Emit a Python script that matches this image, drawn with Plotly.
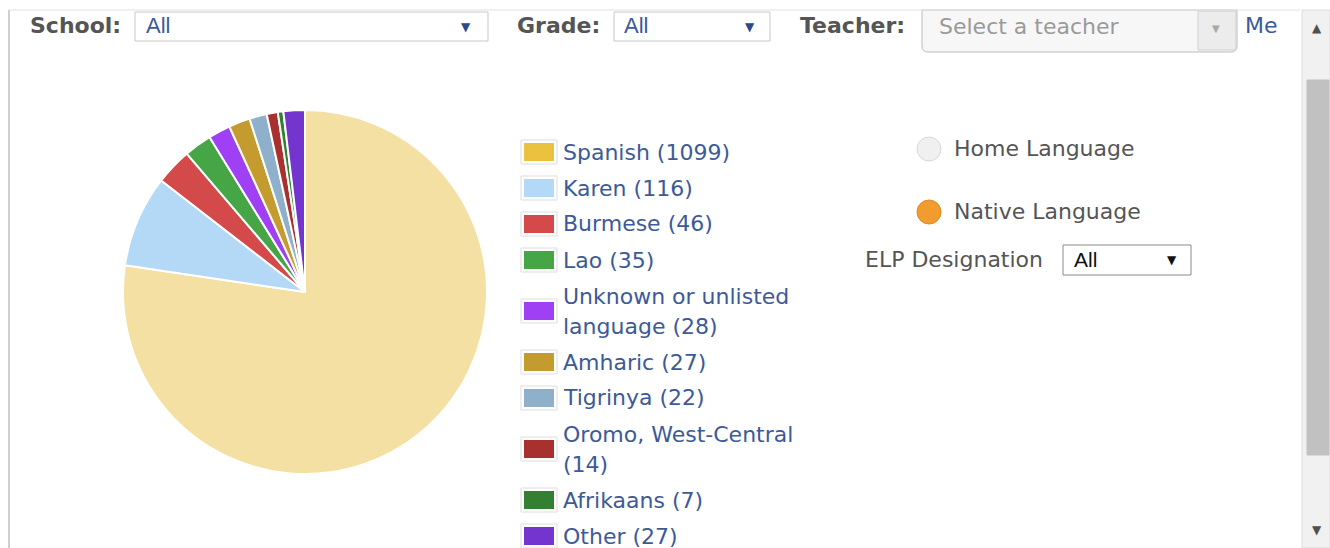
import textwrap
import plotly.graph_objects as go

# ---------------- data ----------------
languages = ["Spanish", "Karen", "Burmese", "Lao", "Unknown or unlisted language",
             "Amharic", "Tigrinya", "Oromo, West-Central", "Afrikaans", "Other"]
counts = [1099, 116, 46, 35, 28, 27, 22, 14, 7, 27]
slice_colors = ["#F5E0A3", "#B3D9F7", "#D44A4A", "#46A646", "#A040F5",
                "#C49B2E", "#8FB0CB", "#A8302F", "#338033", "#7435CF"]
swatch_colors = ["#EBC23F", "#B3D9F7", "#D44A4A", "#46A646", "#A040F5",
                 "#C49B2E", "#8FB0CB", "#A8302F", "#338033", "#7435CF"]

filter_labels = ["School:", "Grade:", "Teacher:"]
filter_values = ["All", "All", "Select a teacher"]
radio_options = ["Home Language", "Native Language"]
elp_label = "ELP Designation"
elp_value = "All"

W, H = 1330, 548


def px(x):
    return x / W


def py(y):
    return 1 - y / H


fig = go.Figure()

# ---------------- pie ----------------
cx, cy, r = 305, 292, 182
fig.add_trace(go.Pie(
    labels=languages, values=counts, sort=False, direction="clockwise", rotation=0,
    marker=dict(colors=slice_colors, line=dict(color="white", width=2)),
    textinfo="none", hoverinfo="label+value", showlegend=False,
    domain=dict(x=[px(cx - r), px(cx + r)], y=[py(cy + r), py(cy - r)]),
))

shapes = []
ann = []
FONT = "DejaVu Sans"
LEG_COLOR = "#3D5A98"
GREY_TXT = "#555555"


def text(x, y, s, size=20, color=GREY_TXT, family=FONT, anchor="left"):
    ann.append(dict(x=px(x), y=py(y), xref="paper", yref="paper", text=s, showarrow=False,
                    xanchor=anchor, yanchor="middle",
                    font=dict(size=size, color=color, family=family)))


def rect(x0, y0, x1, y1, fill="white", line="#cccccc", lw=1):
    shapes.append(dict(type="rect", xref="paper", yref="paper",
                       x0=px(x0), x1=px(x1), y0=py(y1), y1=py(y0),
                       fillcolor=fill, line=dict(color=line, width=lw), layer="below"))


# ---------------- custom legend ----------------
cursor = 152
for lab, val, col in zip(languages, counts, swatch_colors):
    lines = textwrap.wrap(f"{lab} ({val})", width=20)
    n = len(lines)
    center = cursor + 15 * (n - 1)
    rect(521, center - 12, 557, center + 12, fill="white", line="#dddddd")
    rect(524, center - 9, 554, center + 9, fill=col, line=col, lw=0)
    for k, ln in enumerate(lines):
        text(561, cursor + 30 * k, ln, size=22, color=LEG_COLOR)
    cursor = cursor + 30 * (n - 1) + 36

# ---------------- frame ----------------
shapes.append(dict(type="line", xref="paper", yref="paper", x0=px(8), x1=px(1300),
                   y0=py(10), y1=py(10), line=dict(color="#e2e2e2", width=1)))
shapes.append(dict(type="line", xref="paper", yref="paper", x0=px(9), x1=px(9),
                   y0=py(10), y1=py(548), line=dict(color="#cfcfcf", width=2)))

# ---------------- top filter bar ----------------
text(28, 25, "<b>" + filter_labels[0] + "</b>", size=22, color=GREY_TXT)
rect(135, 12, 488, 41, fill="white", line="#c8c8c8")
text(144, 25, filter_values[0], size=22, color="#3B5A9A", family="Liberation Sans")
text(466, 27, "▼", size=12, color="#2B4A8A", anchor="center")

text(515, 25, "<b>" + filter_labels[1] + "</b>", size=22, color=GREY_TXT)
rect(614, 12, 770, 41, fill="white", line="#c8c8c8")
text(622, 25, filter_values[1], size=22, color="#3B5A9A", family="Liberation Sans")
text(750, 27, "▼", size=12, color="#2B4A8A", anchor="center")

text(798, 25, "<b>" + filter_labels[2] + "</b>", size=22, color=GREY_TXT)
shapes.append(dict(type="path", xref="paper", yref="paper", layer="below",
                   path=(f"M {px(922)},{py(10)} L {px(1237)},{py(10)} L {px(1237)},{py(46)} "
                         f"Q {px(1237)},{py(52)} {px(1231)},{py(52)} L {px(928)},{py(52)} "
                         f"Q {px(922)},{py(52)} {px(922)},{py(46)} Z"),
                   fillcolor="#f7f7f7", line=dict(color="#bdbdbd", width=1)))
rect(1198, 11, 1236, 50, fill="#ececec", line="#d0d0d0")
text(937, 27, filter_values[2], size=22, color="#9a9a9a")
text(1216, 28, "▼", size=10, color="#a8a8a8", anchor="center")
text(1243, 25, "Me", size=22, color=LEG_COLOR)

# ---------------- scrollbar ----------------
rect(1302, 10, 1330, 548, fill="#f1f1f1", line="#dcdcdc")
rect(1307, 80, 1329, 455, fill="#c1c1c1", line="#c1c1c1")
text(1317, 28, "▲", size=12, color="#505050", anchor="center")
text(1317, 530, "▼", size=12, color="#505050", anchor="center")

# ---------------- right-side options ----------------
shapes.append(dict(type="circle", xref="paper", yref="paper", layer="below",
                   x0=px(917), x1=px(941), y0=py(161), y1=py(137),
                   fillcolor="#f0f0f0", line=dict(color="#d8d8d8", width=1)))
text(952, 148, radio_options[0], size=22, color=GREY_TXT)
shapes.append(dict(type="circle", xref="paper", yref="paper", layer="below",
                   x0=px(917), x1=px(941), y0=py(224), y1=py(200),
                   fillcolor="#F29B2E", line=dict(color="#E08A22", width=1)))
text(952, 211, radio_options[1], size=22, color=GREY_TXT)

text(863, 259, elp_label, size=22, color=GREY_TXT)
rect(1063, 245, 1191, 275, fill="white", line="#8a8a8a")
text(1072, 259, elp_value, size=21, color="#111111", family="Liberation Sans")
text(1172, 260, "▼", size=12, color="#111111", anchor="center")

fig.update_layout(
    width=W, height=H, margin=dict(l=0, r=0, t=0, b=0),
    paper_bgcolor="white", plot_bgcolor="white",
    shapes=shapes, annotations=ann, showlegend=False,
)

fig.write_html("out.html", config={"displayModeBar": False},
               post_script="document.body.style.margin='0';document.body.style.overflow='hidden';")
